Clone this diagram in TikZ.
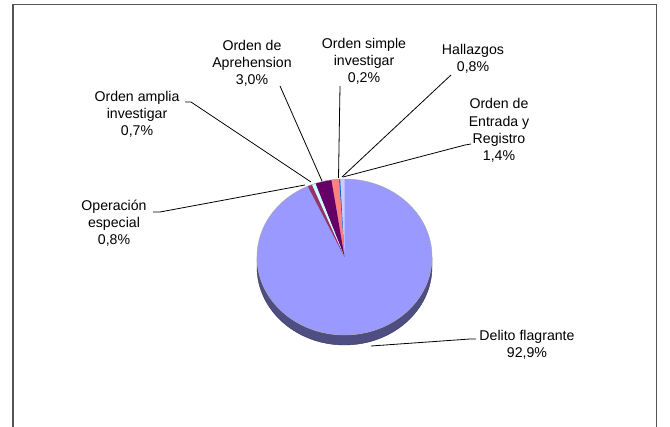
\documentclass[tikz,border=0pt]{standalone}
\usepackage{fontspec}
\setmainfont{Liberation Sans}
\definecolor{peri}{HTML}{9999FF}
\definecolor{sidec}{HTML}{4E4E82}
\definecolor{rasp}{HTML}{993366}
\definecolor{lcyan}{HTML}{CCFFFF}
\definecolor{plum}{HTML}{660066}
\definecolor{salmon}{HTML}{FF8080}
\definecolor{ocean}{HTML}{0066CC}
\definecolor{lblue}{HTML}{CCCCFF}
\definecolor{framec}{HTML}{555555}
\newcommand\pieslice[3]{\fill[#3] (O) -- +(-#1:87.5 and 78) arc[start angle=-#1, end angle=-#2, x radius=87.5, y radius=78] -- cycle;}
\begin{document}
\begin{tikzpicture}[x=0.75pt,y=-0.75pt,
  lbl/.style={font=\fontsize{10.6}{12.9}\selectfont, align=center, inner sep=0pt},
  leader/.style={draw=black, line width=0.6pt}]
\useasboundingbox (0,0) rectangle (670,427);
% frame
\draw[framec, line width=1.1pt] (13,427) -- (13,4.5) -- (656.5,4.5) -- (656.5,427);
% pie
\coordinate (O) at (344.5,257);
\fill[sidec] (257,257) -- (257,267) arc[start angle=-180, end angle=-360, x radius=87.5, y radius=78] -- (432,257) arc[start angle=-360, end angle=-180, x radius=87.5, y radius=78] -- cycle;
\draw[sidec!70!black, line width=0.3pt] (257,257) -- (257,267) arc[start angle=-180, end angle=-360, x radius=87.5, y radius=78] -- (432,257);
\fill[peri] (O) ellipse [x radius=87.5, y radius=78];
\pieslice{90}{92.88}{lblue}
\pieslice{92.88}{93.6}{ocean}
\pieslice{93.6}{98.64}{salmon}
\pieslice{98.64}{109.44}{plum}
\pieslice{109.44}{111.96}{lcyan}
\pieslice{111.96}{114.84}{rasp}
\draw[gray!70, line width=0.3pt] (O) ellipse [x radius=87.5, y radius=78];
% labels
\node[lbl] (oe) at (114,223) {Operación\\especial\\0,8\%};
\node[lbl] (oa) at (137,114) {Orden amplia\\investigar\\0,7\%};
\node[lbl] (ap) at (252,63) {Orden de\\Aprehension\\3,0\%};
\node[lbl] (os) at (364,61) {Orden simple\\investigar\\0,2\%};
\node[lbl] (ha) at (473,58.5) {Hallazgos\\0,8\%};
\node[lbl] (er) at (499,130.5) {Orden de\\Entrada y\\Registro\\1,4\%};
\node[lbl] (df) at (527,345) {Delito flagrante\\92,9\%};
% leader end points
\coordinate (oe1) at (153,212); \coordinate (oe2) at (160,212); \coordinate (oeP) at (305,185);
\coordinate (oa1) at (185,102); \coordinate (oa2) at (191,102); \coordinate (oaP) at (311,182);
\coordinate (ap1) at (280,86); \coordinate (apP) at (322,181);
\coordinate (os1) at (340,86); \coordinate (osP) at (338.5,178);
\coordinate (ha1) at (451,75); \coordinate (haP) at (342,177);
\coordinate (er1) at (471,144); \coordinate (er2) at (465,145); \coordinate (erP) at (343,177);
\coordinate (df1) at (476,339); \coordinate (df2) at (470,339); \coordinate (dfP) at (371,346);
\draw[leader] (oe1) -- (oe2) -- (oeP);
\draw[leader] (oa1) -- (oa2) -- (oaP);
\draw[leader] (ap1) -- (apP);
\draw[leader] (os1) -- (osP);
\draw[leader] (ha1) -- (haP);
\draw[leader] (er1) -- (er2) -- (erP);
\draw[leader] (df1) -- (df2) -- (dfP);
\end{tikzpicture}
\end{document}
